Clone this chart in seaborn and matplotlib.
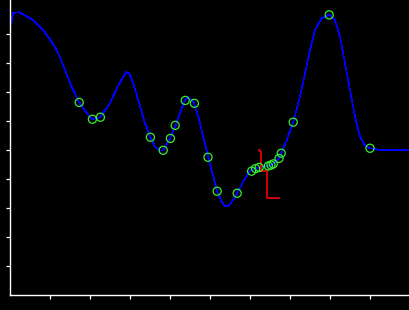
import matplotlib
matplotlib.use("Agg")
import matplotlib.pyplot as plt
import seaborn as sns
import pandas as pd

# Smooth curve
curve_x = [0.02, 0.08, 0.23, 0.58, 0.83, 1.04, 1.21, 1.375, 1.54, 1.73, 1.92, 2.06, 2.26,
           2.50, 2.71, 2.90, 2.98, 3.08, 3.23, 3.375, 3.51, 3.625, 3.75, 3.83, 4.0, 4.14,
           4.25, 4.375, 4.46, 4.58, 4.71, 4.83, 4.96, 5.06, 5.18, 5.29, 5.375, 5.46, 5.58,
           5.68, 5.83, 6.0, 6.23, 6.46, 6.58, 6.725, 6.79, 6.92, 7.08, 7.25, 7.375, 7.5,
           7.625, 7.79, 7.98, 8.125, 8.25, 8.375, 8.5, 8.625, 8.75, 8.875, 9.0, 9.25, 10.0]
curve_y = [9.34, 9.73, 9.75, 9.48, 9.14, 8.73, 8.33, 7.76, 7.18, 6.64, 6.27, 6.06, 6.13,
           6.61, 7.24, 7.68, 7.64, 7.30, 6.61, 5.92, 5.44, 5.11, 4.98, 4.99, 5.40, 5.85,
           6.27, 6.72, 6.82, 6.67, 6.15, 5.46, 4.75, 4.20, 3.58, 3.22, 3.07, 3.07, 3.28,
           3.51, 3.91, 4.29, 4.40, 4.45, 4.52, 4.71, 4.92, 5.34, 5.96, 6.84, 7.64, 8.45,
           9.14, 9.54, 9.67, 9.48, 8.91, 7.99, 7.07, 6.15, 5.46, 5.17, 5.06, 5.0, 5.0]

# Sample points (hollow green circles)
pts_x = [1.73, 2.06, 2.26, 3.51, 3.83, 4.01, 4.13, 4.38, 4.61, 4.95, 5.18, 5.68,
         6.04, 6.14, 6.23, 6.46, 6.525, 6.58, 6.725, 6.78, 7.08, 7.98, 9.0]
pts_y = [6.64, 6.06, 6.13, 5.44, 4.99, 5.40, 5.85, 6.71, 6.61, 4.75, 3.58, 3.51,
         4.27, 4.36, 4.40, 4.45, 4.48, 4.52, 4.71, 4.89, 5.96, 9.66, 5.06]

# Red step trace
red_x = [6.23, 6.275, 6.275, 6.42, 6.42, 6.72]
red_y = [5.0, 4.93, 4.28, 4.28, 3.34, 3.34]

curve = pd.DataFrame({"x": curve_x, "y": curve_y})
pts = pd.DataFrame({"x": pts_x, "y": pts_y})
red = pd.DataFrame({"x": red_x, "y": red_y})

fig = plt.figure(figsize=(4.1, 3.1), dpi=100, facecolor="black")
ax = fig.add_axes([10 / 410, 15 / 310, 400 / 410, 295 / 310])
ax.set_facecolor("black")

sns.lineplot(data=curve, x="x", y="y", sort=False, estimator=None, ax=ax,
             color="#0000ff", linewidth=0.5, antialiased=False)
sns.lineplot(data=red, x="x", y="y", sort=False, estimator=None, ax=ax,
             color="#cc0000", linewidth=0.5, antialiased=False)
sns.scatterplot(data=pts, x="x", y="y", ax=ax, marker="o", s=34,
                facecolors="none", edgecolor="#33ee33", linewidth=0.9, zorder=5)

ax.set_xlim(0, 10)
ax.set_ylim(0, 295 / 29)
ax.set_xticks(range(1, 10))
ax.set_yticks(range(1, 10))
ax.set_xticklabels([])
ax.set_yticklabels([])
ax.set_xlabel("")
ax.set_ylabel("")
for s in ["top", "right"]:
    ax.spines[s].set_visible(False)
for s in ["left", "bottom"]:
    ax.spines[s].set_color("white")
    ax.spines[s].set_linewidth(1.0)
ax.tick_params(colors="white", length=3, width=0.9, direction="out")

fig.savefig("out.png", dpi=100, facecolor="black")
